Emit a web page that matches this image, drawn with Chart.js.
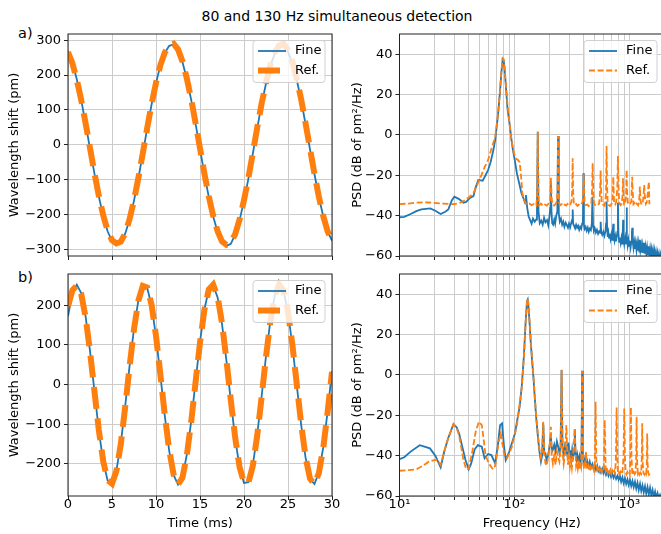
<!DOCTYPE html>
<html>
<head>
<meta charset="utf-8">
<script src="https://cdn.jsdelivr.net/npm/chart.js@4.4.1/dist/chart.umd.min.js"></script>
<style>
  html, body { margin: 0; padding: 0; background: #fff; overflow: hidden; width: 661px; height: 534px; }
  canvas { position: absolute; left: 0; top: 0; }
  .txt { position: absolute; font-family: "DejaVu Sans", sans-serif; color: #000; white-space: nowrap; line-height: 1; }
</style>
</head>
<body>
<div class="txt" style="left:0; width:674px; text-align:center; top:9px; font-size:14px;">80 and 130 Hz simultaneous detection</div>
<div class="txt" style="left:18px; top:26px; font-size:14.5px;">a)</div>
<div class="txt" style="left:18px; top:270px; font-size:14.5px;">b)</div>
<canvas id="timeTop" width="670" height="534"></canvas>
<canvas id="psdTop" width="670" height="534"></canvas>
<canvas id="timeBottom" width="670" height="534"></canvas>
<canvas id="psdBottom" width="670" height="534"></canvas>
<script>
// time axis (ms)
const timeMs = [0, 0.5, 1, 1.5, 2, 2.5, 3, 3.5, 4, 4.5, 5, 5.5, 6, 6.5, 7, 7.5, 8, 8.5, 9, 9.5,
  10, 10.5, 11, 11.5, 12, 12.5, 13, 13.5, 14, 14.5, 15, 15.5, 16, 16.5, 17, 17.5, 18, 18.5, 19, 19.5,
  20, 20.5, 21, 21.5, 22, 22.5, 23, 23.5, 24, 24.5, 25, 25.5, 26, 26.5, 27, 27.5, 28, 28.5, 29, 29.5, 30];

// a) 80 Hz wavelength shift (pm)
const fine80 = [269, 236, 188, 129, 61, -11, -82, -148, -204, -248, -276, -285, -280, -255, -214, -160, -96, -25, 47, 116,
  177, 228, 264, 284, 288, 272, 238, 189, 129, 60, -12, -84, -150, -206, -250, -279, -290, -284, -258, -216,
  -161, -97, -26, 47, 116, 176, 227, 262, 281, 284, 267, 234, 186, 127, 59, -13, -83, -149, -205, -249, -275];
const ref80 = [266, 234, 187, 129, 62, -9, -80, -146, -202, -246, -274, -283, -278, -254, -213, -159, -95, -24, 48, 117,
  178, 229, 265, 286, 290, 274, 240, 191, 131, 62, -10, -82, -148, -204, -248, -277, -287, -281, -256, -214,
  -159, -95, -24, 49, 118, 178, 229, 265, 285, 290, 272, 238, 189, 130, 61, -11, -82, -148, -204, -248, -276];

// b) 130 Hz wavelength shift (pm)
const fine130 = [172, 231, 252, 231, 172, 85, -16, -115, -194, -242, -250, -217, -148, -54, 48, 142, 213, 249, 244, 199,
  121, 23, -79, -167, -228, -252, -234, -177, -92, 9, 108, 190, 240, 251, 220, 153, 61, -41, -136, -209,
  -248, -246, -203, -127, -30, 72, 162, 225, 252, 236, 182, 98, -2, -102, -185, -238, -251, -223, -159, -68, 34];
const ref130 = [198, 238, 250, 229, 170, 84, -16, -114, -193, -241, -250, -218, -150, -56, 46, 140, 212, 249, 245, 201,
  123, 25, -77, -165, -227, -252, -235, -179, -94, 7, 106, 189, 240, 252, 222, 155, 63, -39, -134, -208,
  -248, -247, -205, -129, -32, 70, 160, 224, 252, 237, 184, 100, 0, -100, -183, -237, -251, -224, -161, -70, 32];

// a) PSD, 80 Hz
const psd80FineHz = [10, 11, 12.5, 14, 15.5, 18.5, 20.5, 22.8, 25, 26.6,
  28.5, 30, 33, 36, 38, 41, 44, 46, 48.5, 52.9,
  56, 59, 62, 65.6, 68, 72, 75, 77, 79, 80.5,
  82, 84, 87, 90.5, 94, 97, 101, 105, 111, 115,
  120, 124, 126, 129, 133, 137, 141, 145, 150, 154,
  157, 159.5, 162, 166, 171, 176, 181, 186, 192, 197,
  202, 205, 207.5, 210, 213, 217, 222, 226, 231, 236,
  239.5, 243, 248, 254, 260, 266, 272, 279, 285, 292,
  298, 305, 312, 318, 321, 324, 330, 337, 344, 351,
  358, 366, 373, 381, 388, 394, 398, 402, 408, 416,
  425, 434, 443, 452, 462, 471, 477, 483, 492, 501,
  511, 522, 534, 546, 557, 562, 568, 580, 593, 606,
  620, 626, 633, 640, 648, 657, 666, 676, 686, 696,
  707, 717, 724, 731, 742, 753, 764, 775, 787, 795,
  803, 815, 827, 840, 852, 865, 874, 882, 890, 903,
  916, 930, 940, 946, 953, 966, 980, 995, 1010, 1025,
  1040, 1052, 1060, 1070, 1086, 1102, 1118, 1135, 1152, 1169,
  1186, 1204, 1222, 1235, 1248, 1267, 1286, 1305, 1325, 1345,
  1365, 1385, 1406, 1427, 1448, 1470, 1492, 1514, 1537, 1560,
  1583, 1607, 1631, 1655, 1680, 1705, 1731, 1757, 1783, 1810,
  1837, 1865, 1893, 1921, 1950, 1979, 2000];
const psd80FineDb = [-40.8, -40.6, -39.2, -37.8, -36.9, -36.4, -37.6, -39.2, -38.1, -36.9,
  -32.5, -30.6, -31.8, -33.6, -33.2, -31.2, -30.3, -26, -22.3, -22.7,
  -20, -17.4, -13.5, -7.5, -2.5, 10, 22, 31, 37.5, 37,
  33, 25, 13, 5.8, -2, -7.5, -13, -19, -25, -28.9,
  -31.5, -33.9, -29.8, -36, -40.5, -42.2, -44, -41.5, -43, -42,
  -38, 1.6, -38, -43.8, -42.5, -44.5, -41, -43.3, -42.2, -44.8,
  -40, -36, -24, -38, -43.8, -44.5, -42, -44, -40, -38,
  -0.5, -38.8, -43, -41.5, -44.5, -43, -45.5, -43.5, -44.6, -46,
  -44, -45.8, -43.5, -42, -37, -44, -45, -46.3, -44.5, -46,
  -45, -47, -45.5, -46.5, -44, -43, -19, -44.5, -46.5, -45.5,
  -47.5, -46, -48, -46.5, -47.2, -44, -30.6, -45, -47.5, -46.5,
  -48.4, -47, -49, -47.8, -48.5, -43, -48, -49.5, -48, -50,
  -47.5, -44, -33, -46, -50.5, -48.5, -51, -49, -51.5, -49.5,
  -52, -47, -44, -50, -52.4, -50.2, -52.8, -50.5, -48, -33.6,
  -49, -53, -51, -53.5, -51.2, -53.8, -49, -42, -51, -54,
  -51.8, -54.2, -48, -36, -50, -54.6, -52, -55, -52.4, -55.6,
  -52.8, -48, -46, -53, -56, -53.2, -56.5, -53.5, -57, -53.8,
  -57.4, -54, -57.8, -52, -57, -54.6, -58.3, -55, -58.6, -53.5,
  -58.8, -55.6, -59.2, -56, -59.5, -55.2, -59.8, -56.6, -60.2, -57,
  -60.5, -57.4, -61, -57.8, -61.4, -58.4, -61.8, -58.8, -62, -59.3,
  -62.4, -59.8, -62.8, -60.3, -63, -60.6, -63];
const psd80RefHz = [10, 12, 14, 16, 18, 21, 24, 27, 30, 33,
  36, 40, 44, 48, 51, 55, 59, 63, 68, 72,
  75, 77, 79, 80.5, 82, 84, 87, 90.5, 94, 98,
  102, 107, 111, 114, 117, 121, 125, 129, 135, 141,
  148, 155, 157.5, 159.5, 161.5, 164, 170, 177, 184, 191,
  198, 204, 207.5, 211, 215, 221, 228, 234, 237, 239.5,
  242, 245, 251, 258, 266, 274, 282, 290, 298, 306,
  313, 318, 321, 324, 328, 335, 344, 353, 362, 372,
  382, 392, 396, 400, 404, 408, 418, 430, 442, 454,
  466, 473, 479, 485, 492, 505, 518, 532, 546, 556,
  562, 568, 575, 590, 606, 620, 627, 633, 640, 648,
  662, 678, 695, 712, 718, 724, 730, 736, 752, 768,
  785, 795, 805, 815, 835, 855, 872, 880, 888, 900,
  920, 938, 946, 954, 970, 992, 1015, 1040, 1050, 1058,
  1066, 1085, 1110, 1135, 1160, 1190, 1215, 1233, 1250, 1275,
  1300, 1325, 1345, 1365, 1390, 1415, 1440, 1465, 1478, 1490,
  1500];
const psd80RefDb = [-34.3, -34, -33.6, -33.4, -33.5, -33.8, -34, -34.2, -34.3, -33.8,
  -32.8, -31, -28.9, -24, -20.7, -16, -12.4, -7, -1, 10.5,
  22.5, 31.5, 38, 37.5, 33.5, 26, 15, 6, -2, -8,
  -11.5, -12.4, -13.5, -20, -28.9, -32, -33.9, -34.5, -34, -34.8,
  -34.2, -35, -30, 1.6, -30, -34.8, -34, -35.2, -34.5, -35,
  -34, -33, -21, -32, -34.5, -35, -34.2, -33, -28, -0.5,
  -28, -33.8, -34.8, -34.3, -35.2, -34.5, -35, -34.2, -35.1, -34.5,
  -33, -28, -11.6, -28, -33.5, -34.8, -34.3, -35.2, -34.6, -35,
  -34.4, -33, -28, -19.5, -28, -33.5, -34.8, -34.5, -35.3, -34.6,
  -34, -28, -14, -28, -34, -34.8, -35.2, -34.7, -34, -28,
  -17.7, -28, -33.8, -34.6, -35, -33, -26, -5.5, -26, -34,
  -34.8, -35.2, -34.5, -33, -28, -20.7, -28, -33.6, -34.4, -33.2,
  -26, -10.4, -26, -33.6, -34.8, -34.2, -30, -21.5, -30, -34.5,
  -34.3, -28, -17.4, -28, -33.8, -34.6, -34.1, -33, -26, -20.7,
  -27, -34.4, -33.8, -34.8, -34, -34.9, -33.6, -25.6, -33, -34.5,
  -34, -31, -24.8, -31, -34.2, -33.5, -30, -25, -23.2, -33.8,
  -34.4];

// b) PSD, 130 Hz
const psd130FineHz = [10, 11, 12.5, 15, 18.4, 20.5, 22.8, 24.5, 26.5, 29.5,
  31.5, 33, 37.5, 40, 42, 45, 48, 52, 55, 59,
  63, 68, 72, 75, 78, 81, 84, 90, 96, 101,
  106, 111, 116, 121, 125, 128.5, 130.5, 132, 135, 139,
  143, 147, 150, 155, 160, 165, 170, 174, 178, 182,
  186, 190, 195, 200, 207, 212, 216, 222, 228, 234,
  240, 247, 252, 257, 262, 268, 274, 280, 285, 290,
  295, 300, 306, 312, 318, 324, 330, 335, 340, 346,
  352, 360, 368, 376, 383, 388, 393, 400, 410, 420,
  430, 440, 452, 464, 476, 488, 500, 512, 525, 538,
  552, 566, 580, 595, 610, 626, 642, 658, 675, 692,
  710, 728, 747, 766, 786, 806, 827, 848, 870, 892,
  915, 938, 962, 986, 1011, 1037, 1063, 1090, 1118, 1147,
  1176, 1206, 1237, 1268, 1300, 1333, 1367, 1402, 1438, 1475,
  1512, 1550, 1590, 1630, 1672, 1714, 1758, 1800, 1845, 1890,
  1935, 1970, 2000];
const psd130FineDb = [-41.7, -40.8, -38, -34.8, -36.4, -40, -45.8, -38, -31.4, -24.4,
  -26, -29, -42.2, -46.8, -44, -37, -34.8, -35.6, -41.3, -39.2,
  -39.7, -43.8, -34, -24.9, -24, -35, -42.2, -38.1, -33, -29,
  -22, -15.8, -5, 10, 26, 36.5, 37.4, 35, 27.1, 15,
  5.7, -3, -10.8, -22, -30.6, -38, -43, -40, -24, -39,
  -38.9, -42.2, -40.5, -37, -30, -38, -37.2, -34.5, -37.8, -33,
  -35.6, -39, -35, 2.4, -36, -40, -35.5, -38, -36, -40.5,
  -33.5, -38, -37.8, -42, -37, -40.8, -38.5, -27, -38.9, -42,
  -39.5, -43, -40.2, -43.5, -39, 2, -40, -44, -41.5, -44.8,
  -42.8, -45.5, -43, -46, -44.2, -46.5, -44.5, -47, -45, -47.5,
  -46, -48.2, -46.5, -48.8, -47.1, -49.5, -47.8, -50, -48.2, -50.5,
  -48.8, -51, -49.5, -51.5, -50, -52, -50, -53, -50.8, -53.6,
  -51.2, -54, -51.8, -54.5, -52, -55, -52.6, -55.6, -53, -56.3,
  -53.5, -57, -54, -57.5, -54.8, -58.2, -55.2, -58.8, -55.6, -59.2,
  -56, -59.6, -57, -60.5, -57.8, -61, -58.6, -61, -59.5, -61.5,
  -60, -62, -61];
const psd130RefHz = [10, 12, 14, 16, 18, 20, 21.5, 22.8, 24.5, 26.5,
  29.5, 31.5, 33, 36, 38, 40, 43, 46, 49, 52,
  54, 56, 60, 65, 68, 70, 73, 76, 79, 82,
  86, 90, 95, 100, 105, 110, 116, 121, 125, 128.5,
  130.5, 132, 135, 139, 143, 147, 150, 155, 160, 165,
  170, 174, 178, 182, 186, 190, 195, 200, 204, 207.5,
  211, 216, 222, 228, 234, 240, 246, 252, 257, 262,
  268, 274, 279, 283, 287, 292, 298, 304, 310, 316,
  322, 328, 334, 338, 344, 350, 356, 362, 368, 374,
  380, 385, 388.5, 392, 396, 404, 412, 420, 424, 432,
  442, 452, 462, 472, 482, 492, 500, 504, 508, 512,
  516, 526, 538, 550, 562, 574, 586, 598, 604, 610,
  616, 622, 635, 648, 660, 672, 684, 696, 710, 724,
  738, 752, 764, 774, 784, 796, 810, 825, 840, 855,
  870, 890, 902, 914, 928, 944, 960, 976, 992, 1008,
  1020, 1031, 1042, 1058, 1075, 1092, 1110, 1130, 1145, 1155,
  1165, 1185, 1205, 1225, 1245, 1265, 1280, 1292, 1304, 1325,
  1350, 1375, 1400, 1418, 1429, 1440, 1460, 1480, 1500];
const psd130RefDb = [-47.5, -47.2, -46.8, -45, -43, -42.2, -42.2, -44.6, -38, -31.4,
  -24.4, -26.5, -30, -42, -46.8, -46.5, -38, -28.2, -23.2, -24.9,
  -32, -39.7, -44, -46.8, -45, -40.5, -33, -29, -35, -40.5,
  -41.3, -39, -35.6, -30, -24.9, -16, -6, 9, 25.5, 36,
  37.8, 35.5, 27.5, 16, 6.5, -2, -10, -21, -30, -37,
  -41, -38, -23.2, -39, -43.8, -45, -42, -38, -33, -25.7,
  -40, -44, -40, -44.5, -38, -41, -43, -37, 2.6, -38,
  -44, -40, -32, -24.9, -36, -44.5, -40, -45.5, -42, -46,
  -41, -35, -26.5, -35, -45, -43, -46.5, -44, -47, -43,
  -45, -30, 2, -30, -44, -46.5, -43, -38, -45, -47,
  -45, -47.5, -45.5, -47.2, -45.8, -47.5, -43, -30, -13.3, -30,
  -44, -47, -45.5, -47.8, -46, -48, -46.5, -47, -35, -22.4,
  -35, -47.5, -46, -48.5, -47, -48.6, -47.2, -49, -47.5, -48.8,
  -47.6, -49, -40, -16.1, -40, -48.5, -47.8, -49.2, -48, -49,
  -48.2, -40, -16.6, -40, -48.4, -49.3, -48.1, -49, -48.3, -49.2,
  -40, -16.1, -40, -48.6, -49.4, -48.2, -49.2, -48.5, -42, -20.7,
  -42, -48.9, -48, -49.3, -48.4, -49, -43, -24, -43, -48.6,
  -49.4, -48.2, -49, -44, -29, -44, -48.5, -49.5, -49];

// tick values and labels
const timeTicks = [0, 5, 10, 15, 20, 25, 30];
const shiftTicksTop = [-300, -200, -100, 0, 100, 200, 300];
const shiftTicksBottom = [-200, -100, 0, 100, 200];
const psdTicks = [-60, -40, -20, 0, 20, 40];
const freqGrid = [10, 20, 30, 40, 50, 60, 70, 80, 90, 100, 200, 300, 400, 500, 600, 700, 800, 900, 1000, 2000];
const freqLabelValues = [10, 100, 1000];
const freqLabelText = ['10\u00b9', '10\u00b2', '10\u00b3'];

const BLUE = '#1f77b4';
const ORANGE = '#ff7f0e';
const GRID = '#cccccc';
const FONT = '"DejaVu Sans", sans-serif';
const FSIZE = 13;

Chart.defaults.font.family = FONT;
Chart.defaults.font.size = FSIZE;
Chart.defaults.color = '#000';

function pts(xs, ys) {
  return xs.map((x, i) => ({ x: x, y: ys[i] }));
}

function minusFmt(v) {
  return v < 0 ? '\u2212' + Math.abs(v) : String(v);
}

// axes frame + legend box inside the upper right corner
const frameLegend = {
  id: 'frameLegend',
  afterDatasetsDraw(chart, args, opts) {
    const { ctx, chartArea: a } = chart;
    ctx.save();
    ctx.strokeStyle = '#222';
    ctx.lineWidth = 1;
    ctx.strokeRect(a.left, a.top, a.right - a.left, a.bottom - a.top);

    const w = opts.w, h = 42;
    const x = a.right - 7 - w, y = a.top + 6.5;
    ctx.beginPath();
    ctx.roundRect(x, y, w, h, 3);
    ctx.fillStyle = 'rgba(255,255,255,0.8)';
    ctx.fill();
    ctx.strokeStyle = '#d0d0d0';
    ctx.stroke();

    chart.data.datasets.forEach((ds, i) => {
      const cy = y + 10.5 + i * 19.5;
      ctx.beginPath();
      ctx.setLineDash(ds.borderDash || []);
      ctx.lineWidth = ds.borderWidth;
      ctx.strokeStyle = ds.borderColor;
      ctx.moveTo(x + 5, cy);
      ctx.lineTo(x + 33, cy);
      ctx.stroke();
      ctx.setLineDash([]);
      ctx.fillStyle = '#000';
      ctx.font = FSIZE + 'px ' + FONT;
      ctx.textBaseline = 'middle';
      ctx.fillText(ds.label, x + 42, cy);
    });
    ctx.restore();
  }
};

function makePanel(id, p) {
  return new Chart(document.getElementById(id), {
    type: 'line',
    data: {
      datasets: [
        { label: 'Fine', data: p.fine, borderColor: BLUE, borderWidth: 1.8, order: 1, clip: 0 },
        { label: 'Ref.', data: p.ref, borderColor: ORANGE, borderWidth: p.refWidth, borderDash: p.refDash, order: 0, clip: 0 }
      ]
    },
    options: {
      responsive: false,
      animation: false,
      devicePixelRatio: 1,
      layout: { padding: p.pad },
      elements: { point: { radius: 0 }, line: { tension: 0, fill: false } },
      plugins: { legend: { display: false }, tooltip: { enabled: false }, frameLegend: { w: p.legendW } },
      scales: {
        x: {
          type: p.xType,
          min: p.xMin,
          max: p.xMax,
          afterBuildTicks: s => { s.ticks = p.xGrid.map(v => ({ value: v })); },
          afterFit: s => { s.height = p.xH; },
          ticks: { display: p.xLabels, autoSkip: false, maxRotation: 0, padding: -3, color: '#000', callback: p.xFmt },
          grid: { color: GRID, lineWidth: 1, tickLength: 4, tickColor: '#222' },
          border: { display: false },
          title: { display: !!p.xTitle, text: p.xTitle, color: '#000', padding: { top: 0, bottom: 3 } }
        },
        y: {
          min: p.yMin,
          max: p.yMax,
          afterBuildTicks: s => { s.ticks = p.yTicks.map(v => ({ value: v })); },
          afterFit: s => { s.width = p.yW; },
          ticks: { padding: 3, color: '#000', callback: minusFmt },
          grid: { color: GRID, lineWidth: 1, tickLength: 4, tickColor: '#222' },
          border: { display: false },
          title: { display: true, text: p.yTitle, color: '#000', padding: { top: p.yTitlePad, bottom: 0 } }
        }
      }
    },
    plugins: [frameLegend]
  });
}

const timeFmt = v => String(v);
const freqFmt = v => {
  const i = freqLabelValues.indexOf(v);
  return i >= 0 ? freqLabelText[i] : '';
};

makePanel('timeTop', {
  fine: pts(timeMs, fine80), ref: pts(timeMs, ref80), refWidth: 6, refDash: [22, 9.6],
  pad: { left: 0, top: 34, right: 338, bottom: 272 }, xH: 6, xLabels: false,
  xType: 'linear', xMin: 0, xMax: 30, xGrid: timeTicks, xFmt: timeFmt,
  yMin: -319, yMax: 318, yTicks: shiftTicksTop, yW: 68, yTitle: 'Wavelength shift (pm)', yTitlePad: 7,
  legendW: 72
});

makePanel('psdTop', {
  fine: pts(psd80FineHz, psd80FineDb), ref: pts(psd80RefHz, psd80RefDb), refWidth: 1.8, refDash: [6, 2.6],
  pad: { left: 340, top: 34, right: 6, bottom: 272 }, xH: 6, xLabels: false,
  xType: 'logarithmic', xMin: 10, xMax: 2000, xGrid: freqGrid, xFmt: freqFmt,
  yMin: -60, yMax: 50, yTicks: psdTicks, yW: 59.5, yTitle: 'PSD (dB of pm\u00b2/Hz)', yTitlePad: 10,
  legendW: 73
});

makePanel('timeBottom', {
  fine: pts(timeMs, fine130), ref: pts(timeMs, ref130), refWidth: 6, refDash: [22, 9.6],
  pad: { left: 0, top: 274, right: 338, bottom: 0 }, xH: 38, xLabels: true, xTitle: 'Time (ms)',
  xType: 'linear', xMin: 0, xMax: 30, xGrid: timeTicks, xFmt: timeFmt,
  yMin: -281, yMax: 279, yTicks: shiftTicksBottom, yW: 68, yTitle: 'Wavelength shift (pm)', yTitlePad: 7,
  legendW: 72
});

makePanel('psdBottom', {
  fine: pts(psd130FineHz, psd130FineDb), ref: pts(psd130RefHz, psd130RefDb), refWidth: 1.8, refDash: [6, 2.6],
  pad: { left: 340, top: 274, right: 6, bottom: 0 }, xH: 38, xLabels: true, xTitle: 'Frequency (Hz)',
  xType: 'logarithmic', xMin: 10, xMax: 2000, xGrid: freqGrid, xFmt: freqFmt,
  yMin: -60, yMax: 50, yTicks: psdTicks, yW: 59.5, yTitle: 'PSD (dB of pm\u00b2/Hz)', yTitlePad: 10,
  legendW: 73
});
</script>
</body>
</html>
